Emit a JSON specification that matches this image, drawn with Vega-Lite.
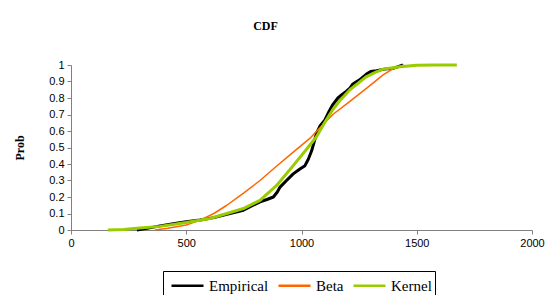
{
  "$schema": "https://vega.github.io/schema/vega-lite/v6.json",
  "width": 461,
  "height": 165,
  "autosize": {"type": "none"},
  "padding": {"left": 71, "top": 65, "right": 21, "bottom": 65},
  "background": "white",
  "title": {"text": "CDF", "font": "Liberation Serif", "fontSize": 12, "fontWeight": "bold", "color": "black", "anchor": "middle", "offset": 26, "dx": -36},
  "config": {"view": {"stroke": null}},
  "data": {"values": [
    {"s":"Empirical","x":286,"p":0},{"s":"Empirical","x":330,"p":0.01},{"s":"Empirical","x":386,"p":0.025},{"s":"Empirical","x":450,"p":0.04},{"s":"Empirical","x":500,"p":0.05},{"s":"Empirical","x":560,"p":0.06},{"s":"Empirical","x":620,"p":0.075},{"s":"Empirical","x":676,"p":0.095},{"s":"Empirical","x":748,"p":0.12},{"s":"Empirical","x":790,"p":0.15},{"s":"Empirical","x":820,"p":0.17},{"s":"Empirical","x":850,"p":0.185},{"s":"Empirical","x":878,"p":0.2},{"s":"Empirical","x":895,"p":0.23},{"s":"Empirical","x":907,"p":0.26},{"s":"Empirical","x":935,"p":0.3},{"s":"Empirical","x":964,"p":0.34},{"s":"Empirical","x":993,"p":0.37},{"s":"Empirical","x":1015,"p":0.39},{"s":"Empirical","x":1030,"p":0.43},{"s":"Empirical","x":1044,"p":0.48},{"s":"Empirical","x":1065,"p":0.585},{"s":"Empirical","x":1080,"p":0.63},{"s":"Empirical","x":1101,"p":0.665},{"s":"Empirical","x":1120,"p":0.72},{"s":"Empirical","x":1136,"p":0.76},{"s":"Empirical","x":1158,"p":0.8},{"s":"Empirical","x":1175,"p":0.82},{"s":"Empirical","x":1194,"p":0.84},{"s":"Empirical","x":1210,"p":0.86},{"s":"Empirical","x":1223,"p":0.885},{"s":"Empirical","x":1252,"p":0.91},{"s":"Empirical","x":1282,"p":0.945},{"s":"Empirical","x":1300,"p":0.96},{"s":"Empirical","x":1325,"p":0.965},{"s":"Empirical","x":1360,"p":0.975},{"s":"Empirical","x":1397,"p":0.98},{"s":"Empirical","x":1420,"p":0.99},{"s":"Empirical","x":1440,"p":1.0},
    {"s":"Beta","x":364,"p":0},{"s":"Beta","x":420,"p":0.01},{"s":"Beta","x":500,"p":0.03},{"s":"Beta","x":560,"p":0.06},{"s":"Beta","x":620,"p":0.1},{"s":"Beta","x":676,"p":0.15},{"s":"Beta","x":750,"p":0.225},{"s":"Beta","x":820,"p":0.3},{"s":"Beta","x":890,"p":0.385},{"s":"Beta","x":963,"p":0.47},{"s":"Beta","x":993,"p":0.505},{"s":"Beta","x":1040,"p":0.56},{"s":"Beta","x":1080,"p":0.62},{"s":"Beta","x":1136,"p":0.7},{"s":"Beta","x":1210,"p":0.78},{"s":"Beta","x":1283,"p":0.86},{"s":"Beta","x":1354,"p":0.94},{"s":"Beta","x":1400,"p":0.98},{"s":"Beta","x":1445,"p":1.0},
    {"s":"Kernel","x":160,"p":0},{"s":"Kernel","x":230,"p":0.003},{"s":"Kernel","x":286,"p":0.01},{"s":"Kernel","x":386,"p":0.022},{"s":"Kernel","x":500,"p":0.045},{"s":"Kernel","x":603,"p":0.07},{"s":"Kernel","x":676,"p":0.1},{"s":"Kernel","x":748,"p":0.13},{"s":"Kernel","x":820,"p":0.18},{"s":"Kernel","x":892,"p":0.27},{"s":"Kernel","x":964,"p":0.39},{"s":"Kernel","x":1028,"p":0.5},{"s":"Kernel","x":1065,"p":0.565},{"s":"Kernel","x":1100,"p":0.65},{"s":"Kernel","x":1136,"p":0.73},{"s":"Kernel","x":1170,"p":0.79},{"s":"Kernel","x":1210,"p":0.85},{"s":"Kernel","x":1250,"p":0.895},{"s":"Kernel","x":1282,"p":0.93},{"s":"Kernel","x":1320,"p":0.955},{"s":"Kernel","x":1354,"p":0.975},{"s":"Kernel","x":1427,"p":0.99},{"s":"Kernel","x":1499,"p":0.998},{"s":"Kernel","x":1580,"p":1.0},{"s":"Kernel","x":1674,"p":1.0}
  ]},
  "mark": {"type": "line", "strokeJoin": "round"},
  "encoding": {
    "x": {"field": "x", "type": "quantitative", "scale": {"domain": [0, 2000], "nice": false},
      "axis": {"title": null, "values": [0, 500, 1000, 1500, 2000], "format": "d", "labelFlush": false, "grid": false, "domainColor": "#808080", "tickColor": "#808080", "tickSize": 4, "labelFont": "Liberation Sans", "labelFontSize": 11, "labelColor": "black", "labelPadding": 3}},
    "y": {"field": "p", "type": "quantitative", "scale": {"domain": [0, 1], "nice": false},
      "axis": {"title": "Prob", "titleFont": "Liberation Serif", "titleFontSize": 12, "titleFontWeight": "bold", "titleColor": "black", "titlePadding": 22, "values": [0,0.1,0.2,0.3,0.4,0.5,0.6,0.7,0.8,0.9,1], "format": "~g", "labelFlush": false, "grid": false, "domainColor": "#808080", "tickColor": "#808080", "tickSize": 4, "labelFont": "Liberation Sans", "labelFontSize": 11, "labelColor": "black", "labelPadding": 3}},
    "color": {"field": "s", "type": "nominal", "title": null,
      "scale": {"domain": ["Empirical", "Beta", "Kernel"], "range": ["#000000", "#ff6600", "#99cc00"]},
      "legend": {"orient": "none", "legendX": 92, "legendY": 206, "direction": "horizontal", "strokeColor": "black", "padding": 3, "symbolType": "M-1.6,0H1.6", "symbolSize": 400, "symbolOffset": 10, "symbolStrokeWidth": 2.5, "labelFont": "Liberation Serif", "labelFontSize": 15, "labelColor": "black", "columnPadding": 4, "labelOffset": 10}},
    "strokeWidth": {"condition": {"test": "datum.s === 'Beta'", "value": 1.5}, "value": 3},
    "order": {"field": "x", "type": "quantitative"}
  }
}
